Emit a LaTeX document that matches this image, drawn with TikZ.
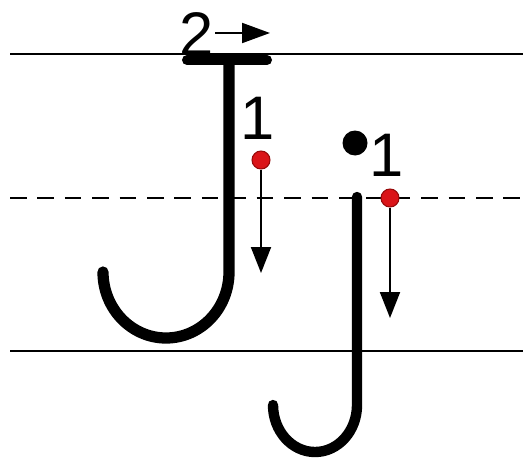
\documentclass[tikz,border=0pt]{standalone}
\usepackage{fontspec}
\setsansfont{Liberation Sans}
\usetikzlibrary{arrows.meta}
\definecolor{dotred}{RGB}{218,20,24}
\definecolor{dotrim}{RGB}{150,10,10}
\tikzset{
  guide/.style={line width=1.7pt},
  letter/.style={line width=6pt, line cap=round},
  move/.style={line width=1.1pt, -{Triangle[length=0.52cm,width=0.4cm]}},
  startdot/.style={circle, fill=dotred, draw=dotrim, line width=0.6pt, minimum size=0.36cm, inner sep=0pt},
  idot/.style={circle, fill=black, minimum size=0.5cm, inner sep=0pt},
  num/.style={font=\sffamily\fontsize{35}{38}\selectfont, inner sep=0pt, anchor=base}
}
\begin{document}
\begin{tikzpicture}
\useasboundingbox (0,0) rectangle (10.46,9.26);
% writing lines
\draw[guide] (0.2,8.18) -- (10.46,8.18);
\draw[guide, dash pattern=on 9.4pt off 6.2pt] (0.2,5.30) -- (10.46,5.30);
\draw[guide] (0.2,2.24) -- (10.46,2.24);
% capital J
\draw[letter, line width=5.7pt] (3.74,8.06) -- (5.34,8.06);
\draw[letter, line width=6.4pt] (4.58,8.0) -- (4.58,3.82) arc[start angle=0, end angle=-180, x radius=1.26, y radius=1.32];
% small j
\draw[letter, line width=5.9pt] (7.14,5.32) -- (7.14,1.16) arc[start angle=0, end angle=-180, x radius=0.84, y radius=0.94];
\node[idot] (jdot) at (7.10,6.40) {};
% stroke 1 of J
\node[num] (n1) at (5.16,6.46) {1};
\node[startdot] (s1) at (5.22,6.06) {};
\coordinate (e1) at (5.22,3.80);
\draw[move] (s1) -- (e1);
% stroke 2 of J
\node[num] (n2) at (3.93,8.14) {2};
\coordinate (b2) at (4.30,8.60);
\coordinate (e2) at (5.40,8.60);
\draw[move, -{Triangle[length=0.56cm,width=0.4cm]}] (b2) -- (e2);
% stroke 1 of j
\node[num] (n3) at (7.74,5.74) {1};
\node[startdot] (s3) at (7.80,5.30) {};
\coordinate (e3) at (7.80,2.90);
\draw[move] (s3) -- (e3);
\end{tikzpicture}
\end{document}
